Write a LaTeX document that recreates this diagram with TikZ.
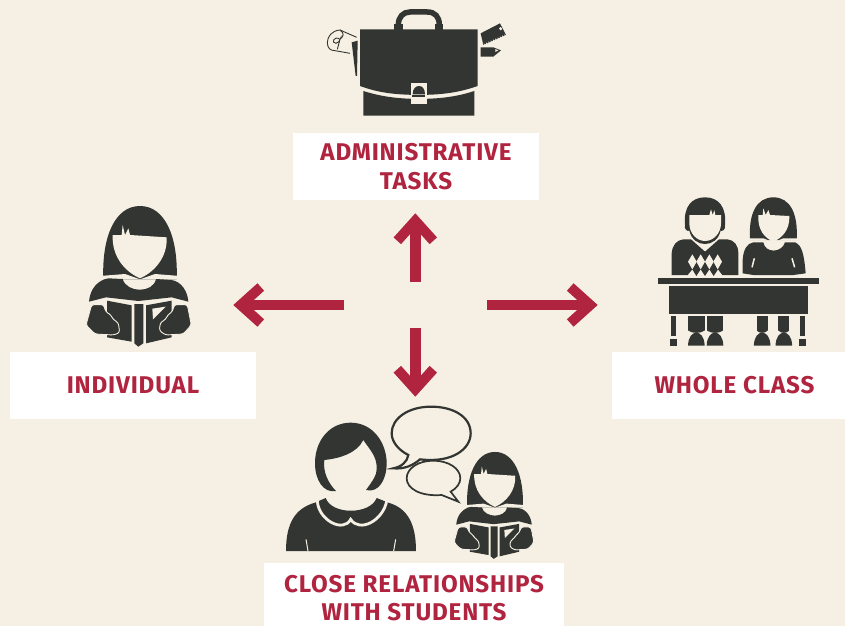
\documentclass[tikz,border=0pt]{standalone}
\usepackage{fontspec}
\setmainfont{Fira Sans}[LetterSpace=3.5]
\usetikzlibrary{arrows.meta}

\definecolor{paper}{HTML}{F5F0E3}
\definecolor{ink}{HTML}{333532}
\definecolor{crimson}{HTML}{B0243F}

\tikzset{
  label box/.style={fill=white, text=crimson, align=center, font=\fontsize{24.2}{28.4}\selectfont\bfseries, inner sep=0pt},
  way/.style={draw=crimson, line width=10.7pt, -{Straight Barb[length=20pt,width=36pt,line width=10pt]}},
  reading girl/.pic={
    \fill[ink] (85,238) .. controls (80,110) and (120,18) .. (195,18) .. controls (270,18) and (310,110) .. (305,238) -- cycle;
    \fill[paper] (113,105) -- (140,105) -- (143,75) -- (150,105) -- (160,85) -- (165,105) -- (275,112) .. controls (278,170) and (240,215) .. (195,235) .. controls (150,215) and (110,170) .. (113,105) -- cycle;
    \fill[paper] (75,228) -- (150,222) -- (195,238) -- (240,222) -- (315,228) -- (315,238) -- (75,238) -- cycle;
    \fill[ink] (42,305) .. controls (45,265) and (70,240) .. (100,235) -- (143,237) .. controls (155,280) and (235,280) .. (243,237) -- (290,240) .. controls (320,245) and (338,275) .. (340,305) -- (290,292) -- (190,303) -- (93,292) -- cycle;
    % book
    \fill[ink] (178,312) -- (205,312) -- (205,430) -- (190,440) -- (178,430) -- cycle;
    \fill[ink] (96,302) -- (170,316) -- (170,425) -- (96,412) -- cycle;
    \fill[ink] (213,316) -- (290,302) -- (290,412) -- (213,430) -- cycle;
    \fill[paper] (232,326) -- (272,320) -- (234,358) -- cycle;
    % arms
    \fill[ink, draw=paper, line width=.9pt, rounded corners=2.5pt] (50,314) -- (86,314) -- (92,335) -- (108,345) -- (114,358) -- (130,368) -- (134,398) -- (115,405) -- (60,402) -- (33,375) -- cycle;
    \fill[ink, draw=paper, line width=.9pt, rounded corners=2.5pt] (337,314) -- (298,314) -- (292,335) -- (278,345) -- (272,358) -- (256,368) -- (253,392) -- (272,405) -- (325,402) -- (349,375) -- cycle;
  },
  pics/.cd
}

\begin{document}
\begin{tikzpicture}[x=1pt, y=-1pt]
  \useasboundingbox[fill=paper] (0,0) rectangle (845,626);
  \clip (0,0) rectangle (845,626);

  % labels
  \node[label box, minimum width=246pt, minimum height=67pt] (admin) at (416,166.5) {ADMINISTRATIVE\\TASKS};
  \node[label box, minimum width=246pt, minimum height=67pt] (individual) at (133,385.5) {INDIVIDUAL};
  \node[label box, minimum width=245pt, minimum height=67pt] (whole) at (734.5,385.5) {WHOLE CLASS};
  \node[label box, minimum width=300pt, minimum height=70pt] (close) at (414,598) {CLOSE RELATIONSHIPS\\WITH STUDENTS};

  % arrows
  \coordinate (hub up) at (415.3,281.7);
  \coordinate (hub left) at (344,305);
  \coordinate (hub right) at (487,305);
  \coordinate (hub down) at (415.3,328);
  \coordinate (tip up) at (415.3,213.3);
  \coordinate (tip left) at (233.3,305);
  \coordinate (tip right) at (597.7,305);
  \coordinate (tip down) at (415.3,396.7);
  \draw[way] (hub up) -- (tip up);
  \draw[way] (hub left) -- (tip left);
  \draw[way] (hub right) -- (tip right);
  \draw[way] (hub down) -- (tip down);

  % briefcase
  \begin{scope}[shift={(310,0)}, scale=1/3]
    \fill[ink] (150,88) -- (503,88) -- (503,258) .. controls (440,280) and (390,284) .. (327,285) .. controls (260,284) and (210,280) .. (150,258) -- cycle;
    \fill[ink] (160,273) .. controls (220,292) and (270,296) .. (327,297) .. controls (385,296) and (435,292) .. (493,273) -- (493,347) -- (160,347) -- cycle;
    \draw[ink, line width=5.5pt] (265,75) .. controls (265,50) and (280,36) .. (300,36) -- (352,36) .. controls (375,36) and (388,50) .. (388,75);
    \fill[ink] (253,73) rectangle (278,90);
    \fill[ink] (376,73) rectangle (400,90);
    \fill[paper] (303,250) rectangle (351,313);
    \fill[ink] (308,283) .. controls (308,265) and (318,258) .. (327,258) .. controls (336,258) and (345,265) .. (345,283) -- cycle;
    \fill[ink] (306,286) rectangle (345,292);
    % rolled paper and pencil
    \draw[ink, line width=.9pt] (140,112) -- (90,90) .. controls (65,92) and (52,110) .. (52,128) .. controls (52,145) and (62,152) .. (75,152) -- (120,160);
    \draw[ink, line width=.9pt] (90,90) .. controls (105,100) and (100,110) .. (90,118) .. controls (72,105) and (62,130) .. (78,130) .. controls (85,130) and (90,120) .. (90,118) -- (82,148);
    \fill[ink] (125,127) -- (143,122) -- (141,228) -- (137,228) -- cycle;
    % ruler and marker
    \fill[ink] (512,100) -- (570,70) -- (588,105) -- (520,135) -- cycle;
    \fill[paper] (572,86) circle (5);
    \draw[paper, line width=1.8pt, dash pattern=on .8pt off 1.7pt] (522,134) -- (586,106);
    \fill[ink] (512,142) -- (550,142) -- (573,151) -- (550,170) -- (512,170) -- cycle;
    \fill[paper] (556,147) -- (565,151) -- (556,156) -- cycle;
  \end{scope}

  % single reader
  \pic[scale=1/3] (reader) at (75,200) {reading girl};

  % class at the desk
  \begin{scope}[shift={(650,190)}, scale=1/3]
    \fill[ink] (105,105) .. controls (100,50) and (125,22) .. (165,22) .. controls (205,22) and (230,50) .. (225,105) .. controls (228,120) and (215,125) .. (212,122) .. controls (205,150) and (185,162) .. (165,162) .. controls (145,162) and (125,150) .. (118,122) .. controls (112,125) and (102,118) .. (105,105) -- cycle;
    \fill[paper] (118,75) -- (178,75) -- (183,58) -- (188,75) -- (193,60) -- (196,75) -- (213,75) -- (213,100) .. controls (213,130) and (190,153) .. (165,153) .. controls (140,153) and (118,130) .. (118,100) -- cycle;
    \fill[ink] (65,255) -- (65,190) .. controls (67,165) and (80,150) .. (100,148) -- (123,148) -- (165,185) -- (207,148) -- (232,148) .. controls (252,150) and (265,165) .. (265,190) -- (265,255) -- (217,255) -- (204,238) -- (191,258) -- (178,238) -- (165,258) -- (152,238) -- (139,258) -- (127,238) -- (113,255) -- cycle;
    \foreach \xdiam in {127,152,178,203}
      \fill[paper] (\xdiam-13,215) -- (\xdiam,193) -- (\xdiam+13,215) -- (\xdiam,238) -- cycle;
    \fill[ink] (300,150) .. controls (295,70) and (320,22) .. (370,22) .. controls (420,22) and (445,70) .. (440,150) -- cycle;
    \fill[paper] (325,75) -- (338,75) -- (340,55) -- (347,75) -- (355,60) -- (360,75) -- (418,78) .. controls (420,120) and (395,145) .. (370,155) .. controls (345,145) and (322,120) .. (325,75) -- cycle;
    \fill[paper] (295,145) -- (340,145) -- (370,157) -- (400,145) -- (445,145) -- (445,152) -- (295,152) -- cycle;
    \fill[ink] (278,250) -- (278,210) .. controls (280,180) and (290,160) .. (310,157) -- (340,157) .. controls (345,190) and (395,190) .. (405,157) -- (435,157) .. controls (455,165) and (462,190) .. (467,250) -- (430,255) -- (310,255) -- cycle;
    \draw[paper, line width=1.5pt] (313,205) -- (306,232);
    \draw[paper, line width=1.5pt] (426,205) -- (434,232);
    \fill[ink] (24,264) rectangle (507,282);
    \fill[ink] (57,288) rectangle (474,372);
    \foreach \xleg in {62,450} {
      \fill[ink] (\xleg,378) rectangle (\xleg+15,438);
      \fill[ink] (\xleg-2,447) rectangle (\xleg+18,467);
    }
    \foreach \xleg/\wleg in {113/52,170/50,320/33,385/33} {
      \fill[ink] (\xleg,378) rectangle (\xleg+\wleg,432);
      \fill[paper] (\xleg-3,438) -- (\xleg-3,420) .. controls (\xleg+\wleg*.3,432) and (\xleg+\wleg*.7,432) .. (\xleg+\wleg+3,420) -- (\xleg+\wleg+3,438) -- cycle;
      \fill[ink] (\xleg+\wleg/2-25,467) .. controls (\xleg+\wleg/2-24,440) and (\xleg+\wleg/2-12,428) .. (\xleg+\wleg/2,428) .. controls (\xleg+\wleg/2+12,428) and (\xleg+\wleg/2+24,440) .. (\xleg+\wleg/2+25,467) -- cycle;
    }
  \end{scope}

  % teacher with pupil
  \begin{scope}[shift={(280,400)}, scale=1/3]
    \fill[ink] (168,273) .. controls (130,280) and (105,240) .. (105,190) .. controls (105,120) and (150,68) .. (212,68) .. controls (280,68) and (320,130) .. (320,190) .. controls (320,240) and (295,280) .. (258,270) .. controls (280,240) and (290,225) .. (290,208) .. controls (292,170) and (270,150) .. (250,120) .. controls (230,160) and (180,175) .. (133,180) .. controls (128,215) and (145,250) .. (168,273) -- cycle;
    \fill[ink] (18,453) .. controls (18,370) and (45,325) .. (105,308) -- (137,294) .. controls (155,345) and (270,345) .. (290,294) -- (325,308) .. controls (385,325) and (408,375) .. (408,453) -- cycle;
    \draw[paper, line width=2.8pt] (112,303) .. controls (115,360) and (190,400) .. (212,358) .. controls (240,400) and (310,360) .. (320,303);
    \draw[paper, line width=1pt] (78,418) -- (84,453);
    \draw[paper, line width=1pt] (347,418) -- (341,453);
    \draw[ink, line width=2.2pt, fill=paper] (420,178) .. controls (520,190) and (572,145) .. (572,100) .. controls (572,50) and (520,20) .. (453,20) .. controls (385,20) and (335,55) .. (335,100) .. controls (335,125) and (355,150) .. (385,165) .. controls (382,185) and (365,200) .. (340,205) .. controls (375,208) and (400,195) .. (420,178) -- cycle;
    \draw[ink, line width=1.7pt, fill=paper] (485,285) -- (535,305) -- (512,275) .. controls (530,265) and (541,250) .. (541,235) .. controls (541,205) and (505,182) .. (460,182) .. controls (415,182) and (380,205) .. (380,235) .. controls (380,265) and (420,290) .. (485,285) -- cycle;
  \end{scope}
  \pic[scale=.2533] (pupil) at (445.6,447.4) {reading girl};
\end{tikzpicture}
\end{document}
